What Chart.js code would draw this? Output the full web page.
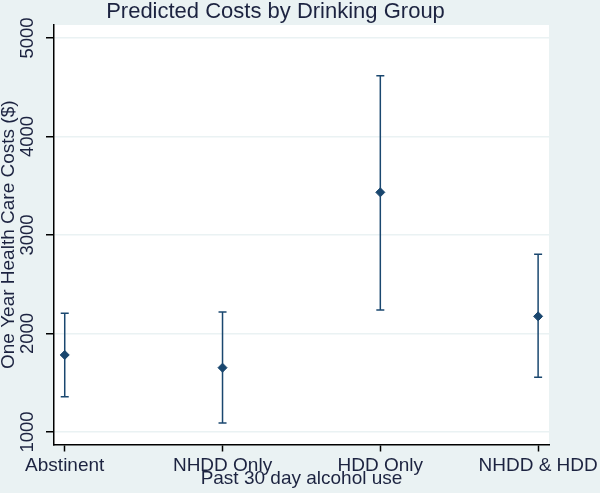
<!DOCTYPE html>
<html>
<head>
<meta charset="utf-8">
<script src="https://cdn.jsdelivr.net/npm/chart.js@4/dist/chart.umd.min.js"></script>
<style>
  html, body { margin: 0; padding: 0; background: #eaf2f3; }
  #wrap { width: 600px; height: 493px; }
</style>
</head>
<body>
<div id="wrap"><canvas id="chart"></canvas></div>
<script>
// Data
const groups = ['Abstinent', 'NHDD Only', 'HDD Only', 'NHDD & HDD'];
const predicted = [1782, 1653, 3433, 2174];
const lowerCI = [1358, 1091, 2238, 1555];
const upperCI = [2205, 2218, 4617, 2804];
const yTicks = [1000, 2000, 3000, 4000, 5000];

const titleText = 'Predicted Costs by Drinking Group';
const navy = '#1a476f';
const textColor = '#1c2340';
const bg = '#eaf2f3';

// one small line dataset per group for the CI whiskers
const ciSets = groups.map((g, i) => ({
    type: 'line',
    data: [{ x: i, y: lowerCI[i] }, { x: i, y: upperCI[i] }],
    showLine: true,
    borderColor: navy,
    borderWidth: 1.5,
    pointStyle: 'line',
    pointRadius: 4,
    pointBorderWidth: 1.5,
    pointBorderColor: navy
}));

const backgrounds = {
    id: 'backgrounds',
    beforeDraw(chart) {
        const { ctx, chartArea: a } = chart;
        ctx.save();
        ctx.fillStyle = bg;
        ctx.fillRect(0, 0, chart.width, chart.height);
        ctx.fillStyle = '#ffffff';
        ctx.fillRect(a.left, a.top, a.right - a.left, a.bottom - a.top);
        ctx.restore();
    }
};

// title and rotated y tick labels
const texts = {
    id: 'texts',
    afterDraw(chart) {
        const ctx = chart.ctx;
        const y = chart.scales.y;
        ctx.save();
        ctx.fillStyle = textColor;
        ctx.font = "22px 'Liberation Sans', Arial, sans-serif";
        ctx.textAlign = 'center';
        ctx.textBaseline = 'alphabetic';
        ctx.fillText(titleText, 275.5, 17.5);

        ctx.font = "18.5px 'Liberation Sans', Arial, sans-serif";
        ctx.textBaseline = 'middle';
        yTicks.forEach(v => {
            ctx.save();
            ctx.translate(27.8, y.getPixelForValue(v));
            ctx.rotate(-Math.PI / 2);
            ctx.fillText(String(v), 0, 0);
            ctx.restore();
        });
        ctx.restore();
    }
};

new Chart(document.getElementById('chart'), {
    type: 'scatter',
    data: {
        datasets: [
            ...ciSets,
            {
                type: 'scatter',
                data: predicted.map((v, i) => ({ x: i, y: v })),
                pointStyle: 'rectRot',
                pointRadius: 4.5,
                backgroundColor: navy,
                borderColor: navy,
                borderWidth: 1
            }
        ]
    },
    options: {
        responsive: true,
        maintainAspectRatio: false,
        animation: false,
        layout: { padding: { top: 25, right: 51, left: 0, bottom: 0 } },
        plugins: {
            legend: { display: false },
            tooltip: { enabled: false },
            title: { display: false }
        },
        scales: {
            x: {
                type: 'linear',
                min: -0.068,
                max: 3.069,
                afterBuildTicks: s => { s.ticks = groups.map((g, i) => ({ value: i })); },
                afterFit: s => { s.height = 48.5; s.paddingLeft = 0; s.paddingRight = 0; },
                grid: { drawOnChartArea: false, drawTicks: true, tickLength: 7, tickColor: '#000', tickWidth: 1.5 },
                border: { display: true, color: '#000', width: 1.5 },
                ticks: {
                    autoSkip: false,
                    maxRotation: 0,
                    padding: 3,
                    color: textColor,
                    font: { family: "'Liberation Sans', Arial, sans-serif", size: 19 },
                    callback: v => groups[v]
                },
                title: {
                    display: true,
                    text: 'Past 30 day alcohol use',
                    color: textColor,
                    padding: { top: 0, bottom: 3 },
                    font: { family: "'Liberation Sans', Arial, sans-serif", size: 19 }
                }
            },
            y: {
                min: 873,
                max: 5132,
                afterBuildTicks: s => { s.ticks = yTicks.map(v => ({ value: v })); },
                afterFit: s => { s.width = 54; s.paddingTop = 0; s.paddingBottom = 0; },
                grid: { color: bg, lineWidth: 1.5, drawTicks: true, tickLength: 8, tickColor: '#000', tickWidth: 1.5 },
                border: { display: true, color: '#000', width: 1.5 },
                ticks: { display: false },
                title: {
                    display: true,
                    text: 'One Year Health Care Costs ($)',
                    color: textColor,
                    padding: { top: -1, bottom: 0 },
                    font: { family: "'Liberation Sans', Arial, sans-serif", size: 19, lineHeight: 1 }
                }
            }
        }
    },
    plugins: [backgrounds, texts]
});
</script>
</body>
</html>
